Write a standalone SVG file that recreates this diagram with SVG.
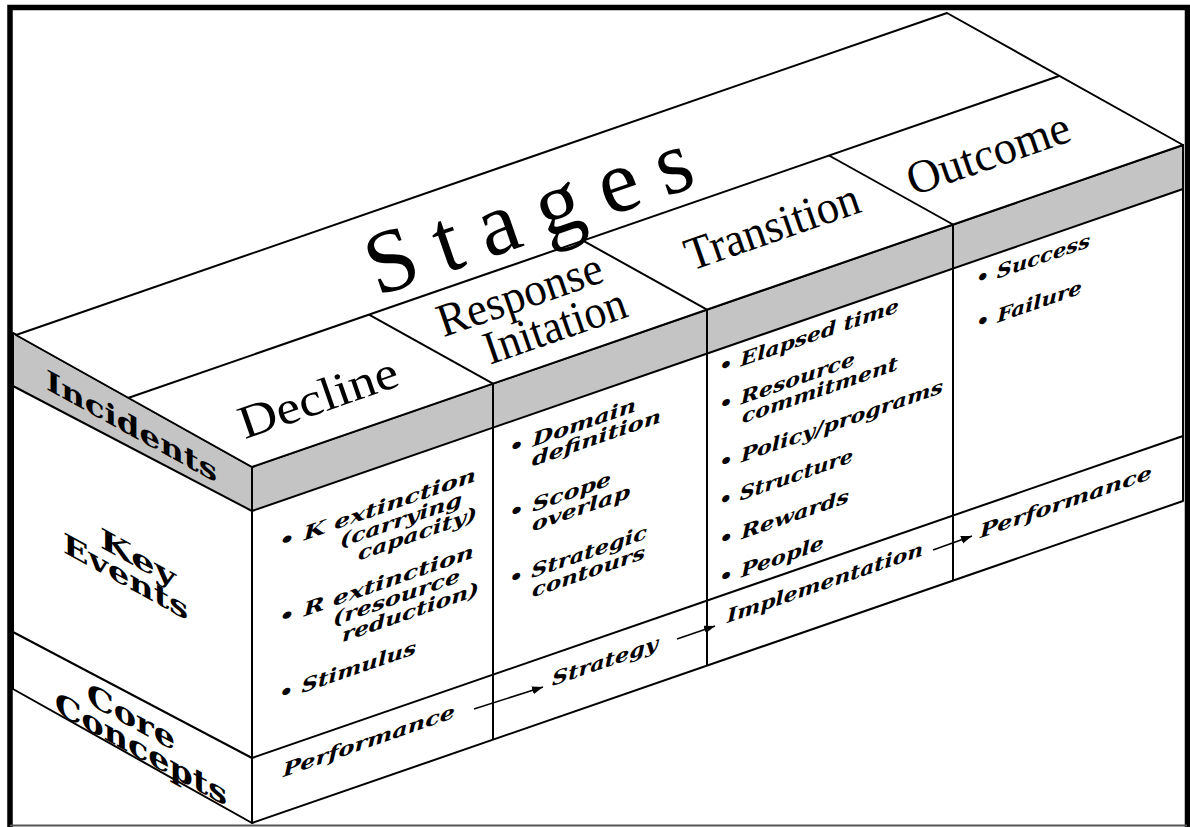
<svg xmlns="http://www.w3.org/2000/svg" width="1190" height="827" viewBox="0 0 1190 827">
<defs>
<style>
.face{fill:#fff;stroke:#000;stroke-width:2;stroke-linejoin:round}
.band{fill:#c4c4c4;stroke:#000;stroke-width:2;stroke-linejoin:round}
.edge{fill:none;stroke:#000;stroke-width:2}
.hdr{font-family:"Liberation Serif","Times New Roman",serif;font-size:47px;fill:#000}
.stg{font-family:"Liberation Serif","Times New Roman",serif;font-size:90px;fill:#000}
.item{font-family:"DejaVu Serif",serif;font-weight:bold;font-style:italic;font-size:19px;fill:#000}
.side{font-family:"DejaVu Serif",serif;font-weight:bold;fill:#000}
.arrow{fill:none;stroke:#000;stroke-width:1.6;marker-end:url(#ah)}
</style>
<marker id="ah" markerUnits="userSpaceOnUse" markerWidth="12" markerHeight="10" refX="11" refY="4" orient="auto"><path d="M0,0 L11,4 L0,8 Z" fill="#000"/></marker>
</defs>
<rect width="1190" height="827" fill="#fff"/>

<g id="left-face">
<polygon class="face" points="13,333 252,467 252,823 13,689"/>
<polygon class="band" points="13,333 252,467 252,511 13,386"/>
<line class="edge" x1="13" y1="632" x2="252" y2="758"/>
</g>

<g id="front-face">
<polygon class="face" points="252,467 1183,145 1183,501 252,823"/>
<polygon class="band" points="252,467 1183,145 1183,189 252,511"/>
<line class="edge" x1="252" y1="758" x2="1183" y2="436"/>
<line class="edge" x1="493" y1="383.6" x2="493" y2="739.6"/>
<line class="edge" x1="707" y1="309.6" x2="707" y2="665.6"/>
<line class="edge" x1="953" y1="224.5" x2="953" y2="580.5"/>
</g>

<g id="top-face">
<polygon class="face" points="16,335 947,13 1183,145 252,467"/>
<line class="edge" x1="128" y1="398" x2="1059" y2="76"/>
<line class="edge" x1="493" y1="383.6" x2="369" y2="314.6"/>
<line class="edge" x1="707" y1="309.6" x2="583" y2="240.6"/>
<line class="edge" x1="953" y1="224.5" x2="829" y2="155.5"/>
</g>

<g id="stages">
<text class="stg" transform="translate(528,212) rotate(-19.1)" text-anchor="middle" dominant-baseline="central" textLength="340" lengthAdjust="spacing">Stages</text>
</g>

<g id="decline">
<text class="hdr" font-size="50" transform="translate(318,397) rotate(-19.1)" text-anchor="middle" dominant-baseline="central" textLength="166" lengthAdjust="spacingAndGlyphs">Decline</text>
<text class="item" transform="matrix(1 -0.3459 0 1 279 549)" textLength="197" lengthAdjust="spacingAndGlyphs">• K extinction</text>
<text class="item" transform="matrix(1 -0.3459 0 1 340 547.5)" textLength="122" lengthAdjust="spacingAndGlyphs">(carrying</text>
<text class="item" transform="matrix(1 -0.3459 0 1 358 560.7)" textLength="119" lengthAdjust="spacingAndGlyphs">capacity)</text>
<text class="item" transform="matrix(1 -0.3459 0 1 279 625)" textLength="195" lengthAdjust="spacingAndGlyphs">• R extinction</text>
<text class="item" transform="matrix(1 -0.3459 0 1 333 625.8)" textLength="127" lengthAdjust="spacingAndGlyphs">(resource</text>
<text class="item" transform="matrix(1 -0.3459 0 1 342 642.2)" textLength="137" lengthAdjust="spacingAndGlyphs">reduction)</text>
<text class="item" transform="matrix(1 -0.3459 0 1 279 701)" textLength="137" lengthAdjust="spacingAndGlyphs">• Stimulus</text>
<text class="item" transform="matrix(1 -0.3459 0 1 283 777)" textLength="172" lengthAdjust="spacingAndGlyphs">Performance</text>
</g>

<g id="response-initation">
<text class="hdr" transform="translate(530,318) rotate(-19.1)" text-anchor="middle"><tspan x="-2" y="-10" textLength="172" lengthAdjust="spacingAndGlyphs">Response</tspan><tspan x="21" y="31" textLength="148" lengthAdjust="spacingAndGlyphs">Initation</tspan></text>
<text class="item" transform="matrix(1 -0.3459 0 1 509 455)" textLength="127" lengthAdjust="spacingAndGlyphs">• Domain</text>
<text class="item" transform="matrix(1 -0.3459 0 1 532 466.5)" textLength="129" lengthAdjust="spacingAndGlyphs">definition</text>
<text class="item" transform="matrix(1 -0.3459 0 1 509 520)" textLength="102" lengthAdjust="spacingAndGlyphs">• Scope</text>
<text class="item" transform="matrix(1 -0.3459 0 1 532 531.5)" textLength="98" lengthAdjust="spacingAndGlyphs">overlap</text>
<text class="item" transform="matrix(1 -0.3459 0 1 509 586)" textLength="138" lengthAdjust="spacingAndGlyphs">• Strategic</text>
<text class="item" transform="matrix(1 -0.3459 0 1 532 597.5)" textLength="113" lengthAdjust="spacingAndGlyphs">contours</text>
<text class="item" transform="matrix(1 -0.3459 0 1 552 686)" textLength="106" lengthAdjust="spacingAndGlyphs">Strategy</text>
</g>

<g id="transition">
<text class="hdr" transform="translate(772,226) rotate(-19.1)" text-anchor="middle" dominant-baseline="central" textLength="182" lengthAdjust="spacingAndGlyphs">Transition</text>
<text class="item" transform="matrix(1 -0.3459 0 1 719 374)" textLength="180" lengthAdjust="spacingAndGlyphs">• Elapsed time</text>
<text class="item" transform="matrix(1 -0.3459 0 1 719 412)" textLength="136" lengthAdjust="spacingAndGlyphs">• Resource</text>
<text class="item" transform="matrix(1 -0.3459 0 1 742 423.5)" textLength="156" lengthAdjust="spacingAndGlyphs">commitment</text>
<text class="item" transform="matrix(1 -0.3459 0 1 719 470)" textLength="224" lengthAdjust="spacingAndGlyphs">• Policy/programs</text>
<text class="item" transform="matrix(1 -0.3459 0 1 719 508)" textLength="134" lengthAdjust="spacingAndGlyphs">• Structure</text>
<text class="item" transform="matrix(1 -0.3459 0 1 719 547)" textLength="130" lengthAdjust="spacingAndGlyphs">• Rewards</text>
<text class="item" transform="matrix(1 -0.3459 0 1 719 585)" textLength="105" lengthAdjust="spacingAndGlyphs">• People</text>
<text class="item" transform="matrix(1 -0.3459 0 1 727 623)" textLength="196" lengthAdjust="spacingAndGlyphs">Implementation</text>
</g>

<g id="outcome">
<text class="hdr" transform="translate(988,153) rotate(-19.1)" text-anchor="middle" dominant-baseline="central" textLength="170" lengthAdjust="spacingAndGlyphs">Outcome</text>
<text class="item" transform="matrix(1 -0.3459 0 1 976 286)" textLength="114" lengthAdjust="spacingAndGlyphs">• Success</text>
<text class="item" transform="matrix(1 -0.3459 0 1 976 330)" textLength="106" lengthAdjust="spacingAndGlyphs">• Failure</text>
<text class="item" transform="matrix(1 -0.3459 0 1 980 538)" textLength="172" lengthAdjust="spacingAndGlyphs">Performance</text>
</g>

<g id="incidents">
<text class="side" font-size="28" transform="matrix(1 0.55 0 1 46 389)" textLength="171" lengthAdjust="spacingAndGlyphs">Incidents</text>
</g>
<g id="key-events">
<text class="side" font-size="28" transform="matrix(1 0.55 0 1 100 547)" textLength="76" lengthAdjust="spacingAndGlyphs">Key</text>
<text class="side" font-size="28" transform="matrix(1 0.55 0 1 63 552)" textLength="125" lengthAdjust="spacingAndGlyphs">Events</text>
</g>
<g id="core-concepts">
<text class="side" font-size="30" transform="matrix(1 0.55 0 1 87 703)" textLength="88" lengthAdjust="spacingAndGlyphs">Core</text>
<text class="side" font-size="30" transform="matrix(1 0.55 0 1 55 712)" textLength="172" lengthAdjust="spacingAndGlyphs">Concepts</text>
</g>

<g id="connectors">
<line class="arrow" x1="474" y1="709" x2="543" y2="687"/>
<line class="arrow" x1="677" y1="639" x2="715" y2="626"/>
<line class="arrow" x1="933" y1="550" x2="972" y2="536"/>
</g>

<g id="frame">
<path d="M10,827 V7.5 H1187.5 V827" fill="none" stroke="#000" stroke-width="5.5"/>
<line x1="10" y1="825.5" x2="1187" y2="825.5" stroke="#555" stroke-width="2"/>
</g>
</svg>
